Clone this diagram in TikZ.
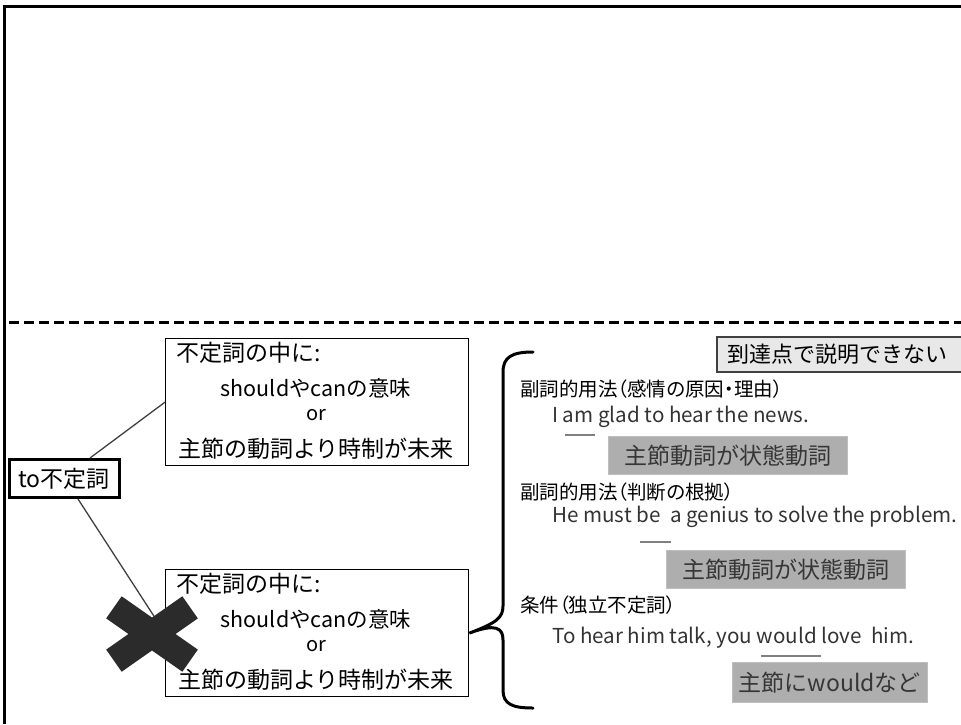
\documentclass[tikz,border=0pt]{standalone}
\usepackage{fontspec}
\setmainfont{Noto Sans CJK JP}
\newfontfamily\jpp[RawFeature={+palt}]{Noto Sans CJK JP}
\newcommand\fsz[1]{\fontsize{#1}{#1}\selectfont}
\definecolor{linec}{HTML}{404040}
\definecolor{crossc}{HTML}{2B2B2B}
\definecolor{lightfill}{HTML}{E8E8E8}
\definecolor{grayfill}{HTML}{AEAEAE}
\definecolor{graytext}{HTML}{363636}
\definecolor{sentc}{HTML}{333333}
\definecolor{ulc}{HTML}{808080}
\tikzset{
  wbox/.style={draw=black, line width=1.3pt, fill=white, minimum width=303pt, minimum height=127pt, anchor=north west, inner sep=0pt},
  tobox/.style={draw=black, line width=3pt, fill=white, minimum width=110pt, minimum height=38pt, inner sep=0pt, font=\fsz{23}},
  txt/.style={inner sep=0pt, anchor=base west},
  ctxt/.style={inner sep=0pt, anchor=base},
  conn/.style={draw=linec, line width=1.3pt},
  head/.style={txt, font=\jpp\fsz{19.5}},
  sent/.style={txt, text=sentc, font=\fsz{20.6}},
  gbox/.style={fill=grayfill, draw=grayfill!80!white, line width=0.8pt, inner sep=0pt, text=graytext, font=\fsz{23}, anchor=north west},
  uline/.style={draw=ulc, line width=2.5pt},
}
\begin{document}
\begin{tikzpicture}[x=1pt,y=-1pt]
\useasboundingbox (0,0) rectangle (961,724);
% frame
\draw[line width=3pt] (961,6) -- (4,6) -- (4,724);
\draw[line width=3pt, dash pattern=on 10pt off 5pt] (9,322) -- (961,322);
% boxes
\node[wbox] (b1) at (165,338) {};
\node[txt, font=\fsz{23}] (b1a) at (176,361) {不定詞の中に:};
\node[ctxt, font=\fsz{21.5}] (b1b) at (316,396) {shouldやcanの意味};
\node[ctxt, font=\fsz{20}] (b1c) at (316,420) {or};
\node[ctxt, font=\fsz{23}] (b1d) at (316,457) {主節の動詞より時制が未来};
\node[wbox] (b2) at (165,569) {};
\node[txt, font=\fsz{23}] (b2a) at (176,592) {不定詞の中に:};
\node[ctxt, font=\fsz{21.5}] (b2b) at (316,627) {shouldやcanの意味};
\node[ctxt, font=\fsz{20}] (b2c) at (316,651) {or};
\node[ctxt, font=\fsz{23}] (b2d) at (316,688) {主節の動詞より時制が未来};
\node[tobox] (to) at (64,478.5) {to不定詞};
% connectors
\draw[conn] (b1.west) -- ([xshift=26pt]to.north);
\draw[conn] (b2.west) -- ([xshift=14pt]to.south);
% cross
\begin{scope}[shift={(152,634)}]
\fill[crossc, rotate=35] (-46.5,-13.5) rectangle (46.5,13.5);
\fill[crossc, rotate=-35] (-46.5,-13.5) rectangle (46.5,13.5);
\end{scope}
% brace
\coordinate (tip) at (b2.east);
\draw[line width=3pt, line cap=round] (533,352) .. controls (512,352) and (503,357) .. (503,372) -- (503,606) .. controls (503,618) and (496,623) .. (tip) .. controls (496,623) and (503,628) .. (503,640) -- (503,690) .. controls (503,704) and (512,708) .. (533,708);
% top-right label
\node[draw=linec, line width=1.5pt, fill=lightfill, anchor=north west, minimum width=250pt, minimum height=35pt, inner sep=0pt, font=\fsz{22}] (lab) at (716,336) {\hspace*{-9pt}到達点で説明できない};
% right column
\node[head] (h1) at (520,396) {副詞的用法（感情の原因・理由）};
\node[sent] (s1) at (552,422) {I am glad to hear the news.};
\draw[uline] (565,435) -- (595,435);
\node[gbox, minimum width=239pt, minimum height=38pt] (g1) at (608,436) {主節動詞が状態動詞};
\node[head] (h2) at (520,499) {副詞的用法（判断の根拠）};
\node[sent] (s2) at (552,522) {He must be\hspace{0.25em} a genius to solve the problem.};
\draw[uline] (640,542) -- (671,542);
\node[gbox, minimum width=239pt, minimum height=38pt] (g2) at (666,550) {主節動詞が状態動詞};
\node[head] (h3) at (520,612) {条件（独立不定詞）};
\node[sent] (s3) at (552,643) {To hear him talk, you would love\hspace{0.25em} him.};
\draw[uline] (761,656) -- (821,656);
\node[gbox, minimum width=195pt, minimum height=40pt] (g3) at (732,662) {主節にwouldなど};
\end{tikzpicture}
\end{document}
